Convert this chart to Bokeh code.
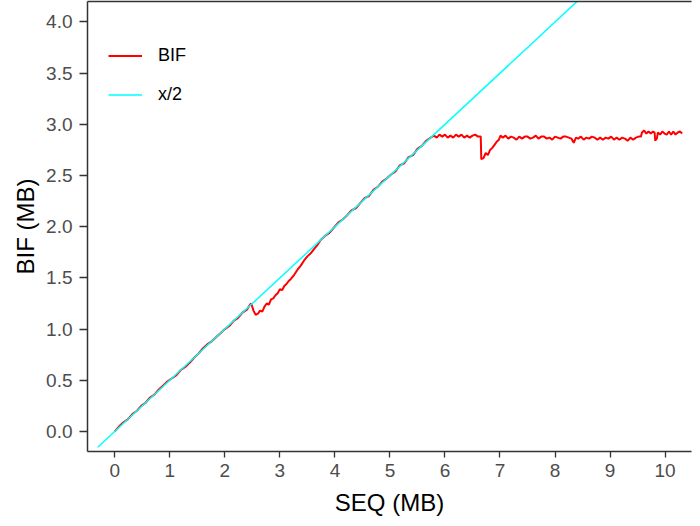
from bokeh.plotting import figure
from bokeh.models import (FixedTicker, NumeralTickFormatter, Legend, LegendItem,
                          LinearAxis, Range1d)
from bokeh.embed import file_html
from bokeh.resources import INLINE

# ---- data ----
bif_x = [0.00, 0.08, 0.16, 0.24, 0.32, 0.40, 0.48, 0.56, 0.64, 0.72, 0.80, 0.88, 0.96,
         1.04, 1.12, 1.20, 1.28, 1.36, 1.44, 1.52, 1.60, 1.68, 1.76, 1.84, 1.92, 2.00,
         2.08, 2.16, 2.24, 2.32, 2.40, 2.46, 2.48,
         2.52, 2.56, 2.60, 2.64, 2.68, 2.72, 2.76, 2.80, 2.84, 2.88, 2.92, 2.96, 3.00,
         3.04, 3.08, 3.12, 3.16, 3.20, 3.26, 3.32, 3.38, 3.44, 3.50, 3.56, 3.62, 3.68, 3.74,
         3.82, 3.90, 3.98, 4.06, 4.14, 4.22, 4.30, 4.38, 4.46, 4.54, 4.62, 4.70, 4.78,
         4.86, 4.94, 5.02, 5.10, 5.18, 5.26, 5.34, 5.42, 5.50, 5.58, 5.66, 5.74, 5.80,
         5.85, 5.90, 5.95, 6.00, 6.05, 6.10, 6.15, 6.20, 6.25, 6.30, 6.35, 6.40, 6.45,
         6.50, 6.55, 6.60, 6.65,
         6.66, 6.70, 6.74, 6.78, 6.82, 6.86, 6.90, 6.94, 6.98, 7.01,
         7.05, 7.10, 7.15, 7.20, 7.25, 7.30, 7.35, 7.40, 7.45, 7.50, 7.55, 7.60, 7.65,
         7.70, 7.75, 7.80, 7.85, 7.90, 7.95, 8.00, 8.05, 8.10, 8.15, 8.20, 8.25, 8.30,
         8.34, 8.38, 8.42, 8.47, 8.52, 8.57, 8.62, 8.67, 8.72, 8.77, 8.82, 8.87, 8.92,
         8.97, 9.02, 9.07, 9.12, 9.17, 9.22, 9.27, 9.32, 9.37, 9.42, 9.47, 9.52, 9.56,
         9.58, 9.62, 9.66, 9.70, 9.74, 9.78, 9.81, 9.82, 9.85, 9.87, 9.91, 9.95, 9.99,
         10.03, 10.07, 10.11, 10.15, 10.19, 10.23, 10.27, 10.31]
bif_y = [0.00, 0.05, 0.09, 0.12, 0.17, 0.20, 0.25, 0.28, 0.33, 0.36, 0.41, 0.45, 0.49,
         0.52, 0.55, 0.60, 0.63, 0.67, 0.72, 0.76, 0.81, 0.85, 0.88, 0.92, 0.96, 1.00,
         1.03, 1.08, 1.11, 1.16, 1.19, 1.24, 1.25,
         1.18, 1.14, 1.15, 1.18, 1.17, 1.22, 1.25, 1.24, 1.29, 1.30, 1.33, 1.35, 1.39,
         1.38, 1.42, 1.44, 1.47, 1.49, 1.53, 1.58, 1.62, 1.67, 1.71, 1.74, 1.78, 1.82, 1.87,
         1.91, 1.94, 1.99, 2.04, 2.07, 2.11, 2.16, 2.18, 2.23, 2.28, 2.30, 2.36, 2.39,
         2.44, 2.47, 2.51, 2.54, 2.60, 2.62, 2.68, 2.70, 2.76, 2.79, 2.84, 2.87, 2.89,
         2.87, 2.90, 2.88, 2.90, 2.87, 2.89, 2.87, 2.90, 2.88, 2.90, 2.87, 2.89, 2.87,
         2.89, 2.90, 2.88, 2.88,
         2.66, 2.67, 2.72, 2.70, 2.75, 2.77, 2.80, 2.83, 2.85, 2.89,
         2.87, 2.89, 2.86, 2.88, 2.87, 2.85, 2.88, 2.86, 2.88, 2.88, 2.86, 2.87, 2.89,
         2.86, 2.88, 2.88, 2.86, 2.87, 2.85, 2.88, 2.87, 2.86, 2.88, 2.88, 2.87, 2.86,
         2.82, 2.87, 2.86, 2.88, 2.85, 2.87, 2.86, 2.88, 2.87, 2.85, 2.87, 2.85, 2.87,
         2.86, 2.88, 2.85, 2.87, 2.85, 2.87, 2.86, 2.84, 2.87, 2.85, 2.87, 2.88, 2.88,
         2.92, 2.94, 2.91, 2.93, 2.91, 2.93, 2.92, 2.84, 2.86, 2.92, 2.90, 2.93, 2.91,
         2.90, 2.93, 2.90, 2.93, 2.90, 2.92, 2.93, 2.91]

half_x = [-0.31, 8.60]
half_y = [-0.155, 4.30]

x_ticks = [0, 1, 2, 3, 4, 5, 6, 7, 8, 9, 10]
y_ticks = [0.0, 0.5, 1.0, 1.5, 2.0, 2.5, 3.0, 3.5, 4.0]

FONT = "Liberation Sans"

p = figure(width=692, height=518, output_backend="svg", toolbar_location=None,
           x_range=Range1d(-0.496, 10.48), y_range=Range1d(-0.196, 4.20),
           min_border_left=87, min_border_right=1, min_border_bottom=66, min_border_top=1)
p.outline_line_color = None
p.xgrid.visible = False
p.ygrid.visible = False
p.background_fill_color = "white"
p.border_fill_color = "white"

r_bif = p.line(bif_x, bif_y, line_color="#FF0000", line_width=2)
r_half = p.line(half_x, half_y, line_color="#00FFFF", line_width=1.5)

for ax in (p.xaxis[0], p.yaxis[0]):
    ax.axis_line_color = "#333333"
    ax.axis_line_width = 1.5
    ax.major_tick_line_color = "#333333"
    ax.major_tick_line_width = 1.3
    ax.major_tick_in = 0
    ax.minor_tick_line_color = None
    ax.major_label_text_font = FONT
    ax.major_label_text_font_size = "19px"
    ax.major_label_text_color = "#4D4D4D"
    ax.axis_label_text_font = FONT
    ax.axis_label_text_font_size = "24px"
    ax.axis_label_text_font_style = "normal"
    ax.axis_label_text_color = "black"

p.xaxis.major_tick_out = 6
p.yaxis.major_tick_out = 8
p.xaxis.ticker = FixedTicker(ticks=x_ticks)
p.yaxis.ticker = FixedTicker(ticks=y_ticks)
p.yaxis.formatter = NumeralTickFormatter(format="0.0")
p.xaxis.axis_label = "SEQ (MB)"
p.yaxis.axis_label = "BIF (MB)"
p.xaxis.major_label_standoff = 6
p.yaxis.major_label_standoff = 7
p.xaxis.axis_label_standoff = 9
p.yaxis.axis_label_standoff = 4

top = LinearAxis(ticker=FixedTicker(ticks=[]), axis_line_color="#333333",
                 axis_line_width=1.5, major_tick_line_color=None,
                 minor_tick_line_color=None, major_label_text_font_size="0px")
p.add_layout(top, "above")

legend = Legend(items=[LegendItem(label="BIF", renderers=[r_bif]),
                       LegendItem(label="x/2", renderers=[r_half])],
                location=(21, 337), orientation="vertical",
                label_text_font=FONT, label_text_font_size="18px",
                label_text_color="black", glyph_width=34, glyph_height=39,
                spacing=0, padding=0, margin=0, label_standoff=16,
                border_line_color=None, background_fill_alpha=0)
p.add_layout(legend, "center")

open("out.html", "w").write(file_html(p, INLINE))
